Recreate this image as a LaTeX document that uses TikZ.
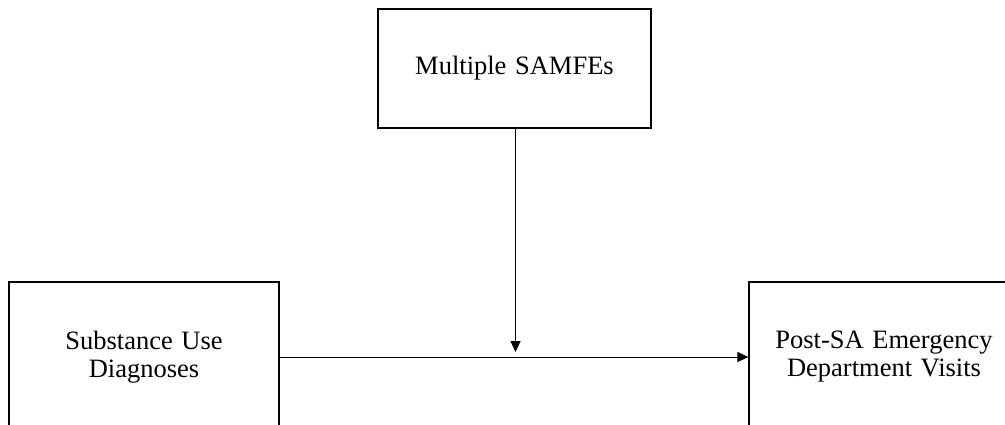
\documentclass[tikz,border=0pt]{standalone}
\usepackage{fontspec}
\setmainfont[WordSpace=1.3]{Liberation Serif}
\usetikzlibrary{arrows.meta}

\tikzset{
  varbox/.style={draw=black, line width=1.2pt, fill=white, align=center,
    font=\fontsize{26.5}{28}\selectfont, inner sep=0pt,
    minimum width=#1},
  link/.style={draw=black, line width=1pt,
    -{Triangle[length=11pt,width=10pt]}},
}

\begin{document}
\begin{tikzpicture}[x=1pt, y=-1pt]
  \useasboundingbox (0,0) rectangle (1005,425);
  \clip (0,0) rectangle (1005,425);
  \fill[white] (0,0) rectangle (1005,425);

  % moderator
  \node[varbox=273pt, minimum height=119pt] (mod) at (514.5,68.5) {Multiple SAMFEs};
  % predictor and outcome
  \node[varbox=270pt, minimum height=150pt] (pred) at (144,357) {Substance Use\\Diagnoses};
  \node[varbox=270pt, minimum height=150pt] (out) at (884,357) {Post-SA Emergency\\Department Visits};

  % main path and moderation path
  \coordinate (hit) at (515.5,352);
  \draw[link] (pred.east) -- (out.west);
  \draw[link] (mod.south -| hit) -- (hit);
\end{tikzpicture}
\end{document}
